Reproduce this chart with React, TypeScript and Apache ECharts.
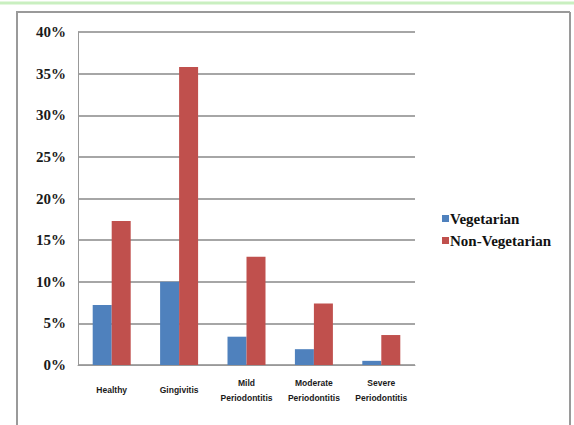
import React, { useEffect, useRef } from "react";
import * as echarts from "echarts";

const categories = ["Healthy", "Gingivitis", "Mild\nPeriodontitis", "Moderate\nPeriodontitis", "Severe\nPeriodontitis"];
const vegetarian = [7.2, 10.0, 3.4, 1.9, 0.5];
const nonVegetarian = [17.3, 35.8, 13.0, 7.4, 3.6];
const seriesNames = ["Vegetarian", "Non-Vegetarian"];

export default function App() {
  const ref = useRef<HTMLDivElement>(null);
  useEffect(() => {
    document.body.style.margin = "0";
    const chart = echarts.init(ref.current!, null, { renderer: "svg" });
    chart.setOption({
      animation: false,
      backgroundColor: "#ffffff",
      grid: { left: 78, right: 159, top: 32, bottom: 60, containLabel: false },
      legend: {
        orient: "vertical",
        left: 437,
        top: 206,
        itemWidth: 7,
        itemHeight: 7,
        itemGap: 7,
        icon: "rect",
        textStyle: { fontFamily: "Liberation Serif", fontWeight: "bold", fontSize: 15, color: "#111", padding: [0, 0, 0, -4] },
        data: seriesNames,
      },
      xAxis: {
        type: "category",
        data: categories,
        axisLine: { show: true, lineStyle: { color: "#999", width: 1 } },
        axisTick: { show: false },
        axisLabel: {
          interval: 0,
          margin: 25,
          verticalAlign: "middle",
          fontFamily: "Liberation Sans",
          fontWeight: "bold",
          fontSize: 8.5,
          lineHeight: 15,
          color: "#1a1a1a",
        },
      },
      yAxis: {
        type: "value",
        min: 0,
        max: 40,
        interval: 5,
        axisLine: { show: true, lineStyle: { color: "#999", width: 1 } },
        axisTick: { show: false },
        axisLabel: {
          formatter: "{value}%",
          margin: 12,
          fontFamily: "Liberation Serif",
          fontWeight: "bold",
          fontSize: 15,
          color: "#1a1a1a",
        },
        splitLine: { lineStyle: { color: "#888", width: 1.5 } },
      },
      series: [
        {
          name: seriesNames[0],
          type: "bar",
          data: vegetarian,
          barWidth: 19,
          barGap: "0%",
          itemStyle: { color: "#4F81BD" },
        },
        {
          name: seriesNames[1],
          type: "bar",
          data: nonVegetarian,
          barWidth: 19,
          barGap: "0%",
          itemStyle: { color: "#C0504D" },
        },
      ],
      graphic: [
        { type: "line", z: 100, shape: { x1: 0, y1: 3, x2: 574, y2: 3 }, style: { stroke: "#c9efc0", lineWidth: 3 } },
        { type: "line", z: 100, shape: { x1: 16, y1: 12, x2: 570, y2: 12 }, style: { stroke: "#9a9a9a", lineWidth: 2 } },
        { type: "line", z: 100, shape: { x1: 17, y1: 12, x2: 17, y2: 425 }, style: { stroke: "#9a9a9a", lineWidth: 2 } },
        { type: "line", z: 100, shape: { x1: 570, y1: 12, x2: 570, y2: 425 }, style: { stroke: "#9a9a9a", lineWidth: 2 } },
      ],
    });
    return () => chart.dispose();
  }, []);
  return <div ref={ref} style={{ width: 574, height: 425 }} />;
}
